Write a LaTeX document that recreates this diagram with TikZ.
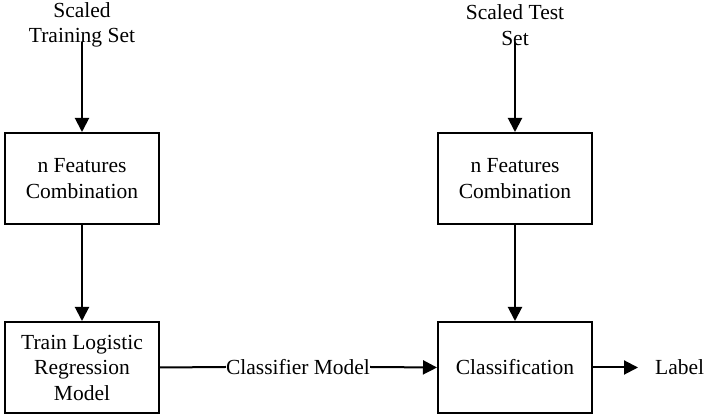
\documentclass[tikz,border=0pt]{standalone}
\usepackage{fontspec}
\setmainfont{Liberation Serif}
\usetikzlibrary{arrows.meta}
\begin{document}
\begin{tikzpicture}[x=1pt,y=1pt,
  box/.style={draw, line width=2pt, minimum width=154pt, minimum height=91pt, align=center, inner sep=0pt},
  txt/.style={align=center, inner sep=0pt},
  conn/.style={line width=2pt, -{Triangle[length=14pt,width=14pt]}},
  plain/.style={line width=2pt},
  every node/.style={font=\fontsize{21.5}{25.5}\selectfont}]
\useasboundingbox (0,0) rectangle (709,419);
% boxes (centres; y flipped: 419 - y)
\node[box] (f1) at (82,240.5) {n Features\\Combination};
\node[box] (t1) at (82,51.5) {Train Logistic\\Regression\\Model};
\node[box] (f2) at (515,240.5) {n Features\\Combination};
\node[box] (c2) at (515,51.5) {Classification};
% texts
\node[txt] (s1) at (82,394) {Scaled\\Training Set};
\node[txt] (s2) at (515,394) {Scaled Test\\Set};
\node[txt] (cm) at (298,52) {Classifier Model};
\node[txt, anchor=west] (lab) at (655,52) {Label};
\coordinate (s1b) at (82,377);
\coordinate (s2b) at (515,377);
% connectors
\draw[conn] (s1b) -- (f1.north);
\draw[conn] (f1.south) -- (t1.north);
\draw[conn] (s2b) -- (f2.north);
\draw[conn] (f2.south) -- (c2.north);
\draw[plain] (t1.east) -- (cm.west);
\draw[conn] (cm.east) -- (c2.west);
\draw[conn] (c2.east) -- ++(45,0) coordinate (labend);
\end{tikzpicture}
\end{document}
